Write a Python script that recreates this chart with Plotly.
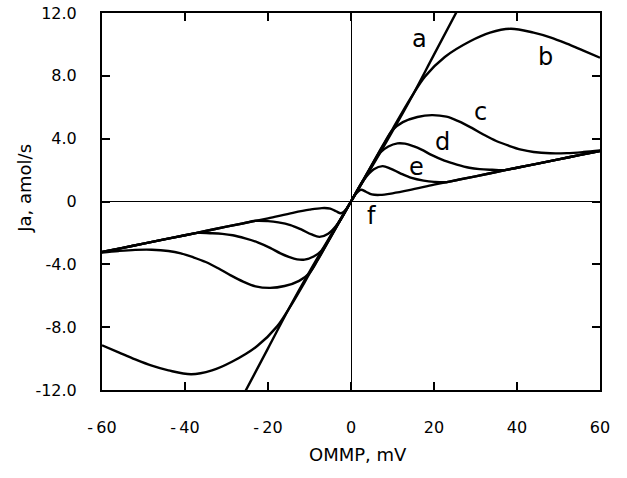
import plotly.graph_objects as go

# ---- data ----
a_x = [-26, -20, -14, -7, 0, 7, 14, 20, 26]
a_y = [-12.35, -9.35, -6.35, -3.1, 0, 3.1, 6.35, 9.35, 12.35]

b_x = [-60, -56, -52, -48, -44, -38.5, -33.5, -28.7, -22.6, -17.8, -14.6, -10, -5, 0,
       5, 10, 14.6, 17.8, 22.6, 28.7, 33.5, 38.5, 44, 48, 52, 56, 60]
b_y = [-9.15, -9.6, -10.05, -10.45, -10.75, -11.0, -10.75, -10.2, -9.2, -7.95, -6.67, -4.6, -2.3, 0,
       2.3, 4.6, 6.67, 7.95, 9.2, 10.2, 10.75, 11.0, 10.75, 10.45, 10.05, 9.6, 9.15]

c_x = [-60, -56, -52, -48, -44, -41, -38, -35, -32, -29, -26, -23, -19.5, -16, -12.5, -10, -8, -4, 0,
       4, 8, 10, 12.5, 16, 19.5, 23, 26, 29, 32, 35, 38, 41, 44, 48, 52, 56, 60]
c_y = [-3.25, -3.15, -3.08, -3.07, -3.15, -3.3, -3.55, -3.85, -4.25, -4.7, -5.1, -5.4, -5.5, -5.38, -5.05, -4.55, -3.72, -1.85, 0,
       1.85, 3.72, 4.55, 5.05, 5.38, 5.5, 5.4, 5.1, 4.7, 4.25, 3.85, 3.55, 3.3, 3.15, 3.07, 3.08, 3.15, 3.25]

d_x = [-60, -55, -50, -45, -40, -37, -34, -31, -28.5, -25.5, -22.5, -19.5, -17, -15, -13, -11.2, -9, -7, -4, 0,
       4, 7, 9, 11.2, 13, 15, 17, 19.5, 22.5, 25.5, 28.5, 31, 34, 37, 40, 45, 50, 55, 60]
d_y = [-3.22, -2.95, -2.68, -2.41, -2.15, -2.0, -2.02, -2.06, -2.15, -2.35, -2.6, -2.95, -3.3, -3.52, -3.68, -3.7, -3.5, -3.1, -1.8, 0,
       1.8, 3.1, 3.5, 3.7, 3.68, 3.52, 3.3, 2.95, 2.6, 2.35, 2.15, 2.06, 2.02, 2.0, 2.15, 2.41, 2.68, 2.95, 3.22]

e_x = [-60, -55, -50, -45, -40, -35, -30, -26, -23, -20, -17.5, -14.6, -12, -9.5, -7.6, -5.5, -3, 0,
       3, 5.5, 7.6, 9.5, 12, 14.6, 17.5, 20, 23, 26, 30, 35, 40, 45, 50, 55, 60]
e_y = [-3.22, -2.95, -2.68, -2.41, -2.15, -1.88, -1.6, -1.39, -1.23, -1.25, -1.33, -1.5, -1.78, -2.1, -2.25, -2.05, -1.35, 0,
       1.35, 2.05, 2.25, 2.1, 1.78, 1.5, 1.33, 1.25, 1.23, 1.39, 1.6, 1.88, 2.15, 2.41, 2.68, 2.95, 3.22]

f_x = [-60, -55, -50, -45, -40, -35, -30, -25, -20, -14, -10, -7, -5, -3.6, -2.4, -1.2, 0,
       1.2, 2.4, 3.6, 5, 7, 10, 14, 20, 25, 30, 35, 40, 45, 50, 55, 60]
f_y = [-3.22, -2.95, -2.68, -2.41, -2.15, -1.88, -1.6, -1.34, -1.07, -0.72, -0.52, -0.42, -0.45, -0.62, -0.75, -0.5, 0,
       0.5, 0.75, 0.62, 0.45, 0.42, 0.52, 0.72, 1.07, 1.34, 1.6, 1.88, 2.15, 2.41, 2.68, 2.95, 3.22]

curve_labels = ["a", "b", "c", "d", "e", "f"]
label_x = [16.4, 46.9, 31.1, 22.1, 15.7, 5.0]
label_y = [10.35, 9.2, 5.7, 3.8, 2.2, -0.9]

x_ticks = [-60, -40, -20, 0, 20, 40, 60]
x_ticktext = ["-\u200960", "-\u200940", "-\u200920", "0", "20", "40", "60"]
y_ticks = [-12, -8, -4, 0, 4, 8, 12]
y_ticktext = ["-12.0", "-8.0", "-4.0", "0", "4.0", "8.0", "12.0"]

# ---- figure ----
fig = go.Figure()
line_style = dict(color="black", width=2.4)
for xs, ys in [(a_x, a_y), (b_x, b_y), (c_x, c_y), (d_x, d_y), (e_x, e_y), (f_x, f_y)]:
    fig.add_trace(go.Scatter(x=xs, y=ys, mode="lines", line=dict(shape="spline", smoothing=1.0, **line_style),
                             showlegend=False, hoverinfo="skip"))

font_main = "DejaVu Sans, Arial, sans-serif"
for t, lx, ly in zip(curve_labels, label_x, label_y):
    fig.add_annotation(x=lx, y=ly, text=t, showarrow=False,
                       font=dict(family=font_main, size=24, color="black"))

fig.add_annotation(xref="paper", yref="paper", x=-0.155, y=0.536, text="Ja, amol/s", textangle=-90,
                   showarrow=False, xanchor="center", yanchor="middle",
                   font=dict(family=font_main, size=18, color="black"))
fig.add_annotation(xref="paper", yref="paper", x=0.515, y=-0.172, text="OMMP, mV",
                   showarrow=False, xanchor="center", yanchor="middle",
                   font=dict(family=font_main, size=18, color="black"))

fig.update_xaxes(range=[-60, 60], tickvals=x_ticks, ticktext=x_ticktext, ticks="inside", ticklen=8,
                 tickwidth=2, tickcolor="black", showline=True, linecolor="black", linewidth=2,
                 mirror="ticks", showgrid=False, zeroline=True, zerolinecolor="black", zerolinewidth=1,
                 ticklabelstandoff=22, automargin=False, ticklabeloverflow="allow",
                 tickfont=dict(family=font_main, size=16, color="black"))
fig.update_yaxes(range=[-12, 12], tickvals=y_ticks, ticktext=y_ticktext, ticks="inside", ticklen=8,
                 tickwidth=2, tickcolor="black", showline=True, linecolor="black", linewidth=2,
                 mirror="ticks", showgrid=False, zeroline=True, zerolinecolor="black", zerolinewidth=1,
                 ticklabelstandoff=20, automargin=False, ticklabeloverflow="allow",
                 tickfont=dict(family=font_main, size=16, color="black"))

fig.update_layout(width=627, height=478, margin=dict(l=102, r=27, t=13, b=88),
                  plot_bgcolor="white", paper_bgcolor="white")

# remove the browser's default page margin so the figure sits at the window origin
fig.write_html("out.html", config={"displayModeBar": False},
               post_script="document.body.style.margin='0';")
